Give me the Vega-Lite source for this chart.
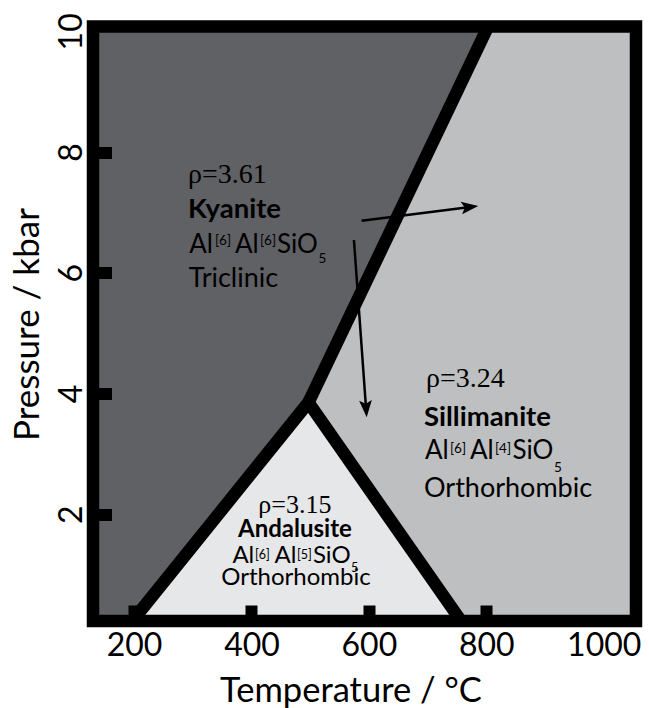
{
  "$schema": "https://vega.github.io/schema/vega-lite/v6.json",
  "width": 543,
  "height": 594.5,
  "autosize": {"type": "none"},
  "padding": {"left": 93, "top": 26.5, "right": 13, "bottom": 87.5},
  "background": "white",
  "config": {"view": {"fill": "#bebfc1", "stroke": null}},
  "datasets": {
    "regions": [
      {"phase": "Kyanite", "T": 130, "P": 0.23, "P2": 10.08},
      {"phase": "Kyanite", "T": 197, "P": 0.23, "P2": 10.08},
      {"phase": "Kyanite", "T": 497, "P": 3.85, "P2": 10.08},
      {"phase": "Kyanite", "T": 803, "P": 10.08, "P2": 10.08},
      {"phase": "Andalusite", "T": 197, "P": 0.23, "P2": 0.23},
      {"phase": "Andalusite", "T": 497, "P": 3.85, "P2": 0.23},
      {"phase": "Andalusite", "T": 757, "P": 0.23, "P2": 0.23}
    ],
    "boundaries": [
      {"b": "And", "T": 197, "P": 0.23},
      {"b": "And", "T": 497, "P": 3.85},
      {"b": "And", "T": 757, "P": 0.23},
      {"b": "KySill", "T": 497, "P": 3.85},
      {"b": "KySill", "T": 803, "P": 10.08}
    ],
    "shafts": [
      {"id": 1, "T": 587.6, "P": 6.86, "T2": 769.4, "P2": 7.085},
      {"id": 2, "T": 574.5, "P": 6.543, "T2": 595.0, "P2": 3.77}
    ],
    "heads": [
      {"id": 1, "T": 786.3, "P": 7.107},
      {"id": 2, "T": 596.2, "P": 3.604}
    ],
    "labels": [
      {"block": "Kyanite", "kind": "rho", "T": 291.7, "P": 7.483, "text": "ρ=3.61"},
      {"block": "Kyanite", "kind": "name", "T": 292, "P": 6.903, "text": "Kyanite"},
      {"block": "Kyanite", "kind": "fragL", "T": 294, "P": 6.333, "text": "Al"},
      {"block": "Kyanite", "kind": "small", "T": 337.7, "P": 6.46, "text": "[6]"},
      {"block": "Kyanite", "kind": "fragL", "T": 371.8, "P": 6.333, "text": "Al"},
      {"block": "Kyanite", "kind": "small", "T": 414.4, "P": 6.46, "text": "[6]"},
      {"block": "Kyanite", "kind": "fragL", "T": 443.4, "P": 6.333, "text": "SiO"},
      {"block": "Kyanite", "kind": "small", "T": 514.1, "P": 6.157, "text": "5"},
      {"block": "Kyanite", "kind": "line", "T": 293, "P": 5.759, "text": "Triclinic"},
      {"block": "Sillimanite", "kind": "rho", "T": 697.2, "P": 4.107, "text": "ρ=3.24"},
      {"block": "Sillimanite", "kind": "name", "T": 693.8, "P": 3.465, "text": "Sillimanite"},
      {"block": "Sillimanite", "kind": "fragL", "T": 695.5, "P": 2.908, "text": "Al"},
      {"block": "Sillimanite", "kind": "small", "T": 738.1, "P": 3.017, "text": "[6]"},
      {"block": "Sillimanite", "kind": "fragL", "T": 772.1, "P": 2.908, "text": "Al"},
      {"block": "Sillimanite", "kind": "small", "T": 814.7, "P": 3.017, "text": "[4]"},
      {"block": "Sillimanite", "kind": "fragL", "T": 844.5, "P": 2.908, "text": "SiO"},
      {"block": "Sillimanite", "kind": "small", "T": 915.2, "P": 2.703, "text": "5"},
      {"block": "Sillimanite", "kind": "line", "T": 693.8, "P": 2.288, "text": "Orthorhombic"},
      {"block": "Andalusite", "kind": "rhoC", "T": 474, "P": 2.013, "text": "ρ=3.15"},
      {"block": "Andalusite", "kind": "nameC", "T": 474, "P": 1.615, "text": "Andalusite"},
      {"block": "Andalusite", "kind": "frag", "T": 367.5, "P": 1.184, "text": "Al"},
      {"block": "Andalusite", "kind": "smallA", "T": 405.9, "P": 1.256, "text": "[6]"},
      {"block": "Andalusite", "kind": "frag", "T": 439.1, "P": 1.184, "text": "Al"},
      {"block": "Andalusite", "kind": "smallA", "T": 477.4, "P": 1.256, "text": "[5]"},
      {"block": "Andalusite", "kind": "frag", "T": 504.7, "P": 1.184, "text": "SiO"},
      {"block": "Andalusite", "kind": "smallA", "T": 569.4, "P": 1.045, "text": "5"},
      {"block": "Andalusite", "kind": "lineC", "T": 475.7, "P": 0.825, "text": "Orthorhombic"}
    ]
  },
  "encoding": {
    "x": {
      "field": "T",
      "type": "quantitative",
      "scale": {"domain": [130, 1055], "nice": false, "zero": false},
      "axis": {
        "values": [200, 400, 600, 800, 1000],
        "format": "d",
        "title": "Temperature / °C",
        "grid": false,
        "domain": false,
        "tickSize": -16,
        "tickWidth": 12,
        "tickColor": "black",
        "tickOpacity": {"condition": {"test": "datum.value === 1000", "value": 0}, "value": 1},
        "labelFont": "Lato",
        "labelFontSize": 32,
        "labelColor": "black",
        "labelPadding": 25.7,
        "labelBaseline": "top",
        "labelAlign": "center",
        "labelFlush": false,
        "labelOverlap": false,
        "titleFont": "Lato",
        "titleFontSize": 34.5,
        "titleFontWeight": "normal",
        "titleColor": "black",
        "titleX": 257.5,
        "titleY": 80.5,
        "titleAlign": "center",
        "titleBaseline": "alphabetic",
        "zindex": 1
      }
    },
    "y": {
      "field": "P",
      "type": "quantitative",
      "stack": null,
      "scale": {"domain": [0.23, 10.08], "nice": false, "zero": false},
      "axis": {
        "values": [2, 4, 6, 8, 10],
        "format": "d",
        "title": "Pressure / kbar",
        "grid": false,
        "domain": false,
        "tickSize": -18.5,
        "tickWidth": 12,
        "tickColor": "black",
        "tickOpacity": {"condition": {"test": "datum.value === 10", "value": 0}, "value": 1},
        "labelFont": "Lato",
        "labelFontSize": 32,
        "labelColor": "black",
        "labelAngle": 270,
        "labelAlign": "center",
        "labelBaseline": "alphabetic",
        "labelPadding": 30.5,
        "labelFlush": false,
        "labelOverlap": false,
        "titleFont": "Lato",
        "titleFontSize": 35,
        "titleFontWeight": "normal",
        "titleColor": "black",
        "titleAngle": 270,
        "titleX": -54.7,
        "titleY": 297.5,
        "titleAlign": "center",
        "titleBaseline": "alphabetic",
        "zindex": 1
      }
    }
  },
  "layer": [
    {
      "data": {"name": "regions"},
      "mark": {"type": "area", "interpolate": "linear"},
      "encoding": {
        "y2": {"field": "P2"},
        "color": {
          "field": "phase",
          "type": "nominal",
          "scale": {"domain": ["Kyanite", "Andalusite"], "range": ["#606165", "#e6e7e9"]},
          "legend": null
        }
      }
    },
    {
      "data": {"name": "boundaries"},
      "mark": {"type": "line", "color": "black", "strokeWidth": 12.5, "strokeJoin": "miter", "strokeMiterLimit": 10, "strokeCap": "butt"},
      "encoding": {"detail": {"field": "b"}}
    },
    {
      "data": {"name": "shafts"},
      "mark": {"type": "rule", "color": "black", "strokeWidth": 2.5},
      "encoding": {"x2": {"field": "T2"}, "y2": {"field": "P2"}}
    },
    {
      "data": {"name": "heads"},
      "transform": [{"filter": "datum.id === 1"}],
      "mark": {"type": "point", "shape": "M0,0L0.75,2L0,1.6L-0.75,2Z", "size": 289, "angle": 83, "filled": true, "color": "black", "opacity": 1, "strokeWidth": 0}
    },
    {
      "data": {"name": "heads"},
      "transform": [{"filter": "datum.id === 2"}],
      "mark": {"type": "point", "shape": "M0,0L0.75,2L0,1.6L-0.75,2Z", "size": 289, "angle": 176, "filled": true, "color": "black", "opacity": 1, "strokeWidth": 0}
    },
    {
      "data": {"name": "labels"},
      "transform": [{"filter": "datum.kind === 'rho'"}],
      "mark": {"type": "text", "font": "Liberation Serif", "fontSize": 28, "align": "left", "baseline": "alphabetic", "color": "black"},
      "encoding": {"text": {"field": "text"}}
    },
    {
      "data": {"name": "labels"},
      "transform": [{"filter": "datum.kind === 'rhoC'"}],
      "mark": {"type": "text", "font": "Liberation Serif", "fontSize": 26, "align": "center", "baseline": "alphabetic", "color": "black"},
      "encoding": {"text": {"field": "text"}}
    },
    {
      "data": {"name": "labels"},
      "transform": [{"filter": "datum.kind === 'name'"}],
      "mark": {"type": "text", "font": "Lato", "fontWeight": "bold", "fontSize": 27.5, "align": "left", "baseline": "alphabetic", "color": "black"},
      "encoding": {"text": {"field": "text"}}
    },
    {
      "data": {"name": "labels"},
      "transform": [{"filter": "datum.kind === 'nameC'"}],
      "mark": {"type": "text", "font": "Lato", "fontWeight": "bold", "fontSize": 24, "align": "center", "baseline": "alphabetic", "color": "black"},
      "encoding": {"text": {"field": "text"}}
    },
    {
      "data": {"name": "labels"},
      "transform": [{"filter": "datum.kind === 'line'"}],
      "mark": {"type": "text", "font": "Lato", "fontSize": 27, "align": "left", "baseline": "alphabetic", "color": "black"},
      "encoding": {"text": {"field": "text"}}
    },
    {
      "data": {"name": "labels"},
      "transform": [{"filter": "datum.kind === 'fragL'"}],
      "mark": {"type": "text", "font": "Lato", "fontSize": 26, "align": "left", "baseline": "alphabetic", "color": "black"},
      "encoding": {"text": {"field": "text"}}
    },
    {
      "data": {"name": "labels"},
      "transform": [{"filter": "datum.kind === 'lineC'"}],
      "mark": {"type": "text", "font": "Lato", "fontSize": 24, "align": "center", "baseline": "alphabetic", "color": "black"},
      "encoding": {"text": {"field": "text"}}
    },
    {
      "data": {"name": "labels"},
      "transform": [{"filter": "datum.kind === 'frag'"}],
      "mark": {"type": "text", "font": "Lato", "fontSize": 24, "align": "left", "baseline": "alphabetic", "color": "black"},
      "encoding": {"text": {"field": "text"}}
    },
    {
      "data": {"name": "labels"},
      "transform": [{"filter": "datum.kind === 'small'"}],
      "mark": {"type": "text", "font": "Lato", "fontSize": 13.5, "align": "left", "baseline": "alphabetic", "color": "black"},
      "encoding": {"text": {"field": "text"}}
    },
    {
      "data": {"name": "labels"},
      "transform": [{"filter": "datum.kind === 'smallA'"}],
      "mark": {"type": "text", "font": "Lato", "fontSize": 12.5, "align": "left", "baseline": "alphabetic", "color": "black"},
      "encoding": {"text": {"field": "text"}}
    },
    {
      "data": {"values": [{"T": 130, "P": 0.23, "T2": 1055, "P2": 10.08}]},
      "mark": {"type": "rect", "filled": false, "color": "black", "strokeWidth": 12.5, "strokeJoin": "miter"},
      "encoding": {"x2": {"field": "T2"}, "y2": {"field": "P2"}}
    }
  ]
}
